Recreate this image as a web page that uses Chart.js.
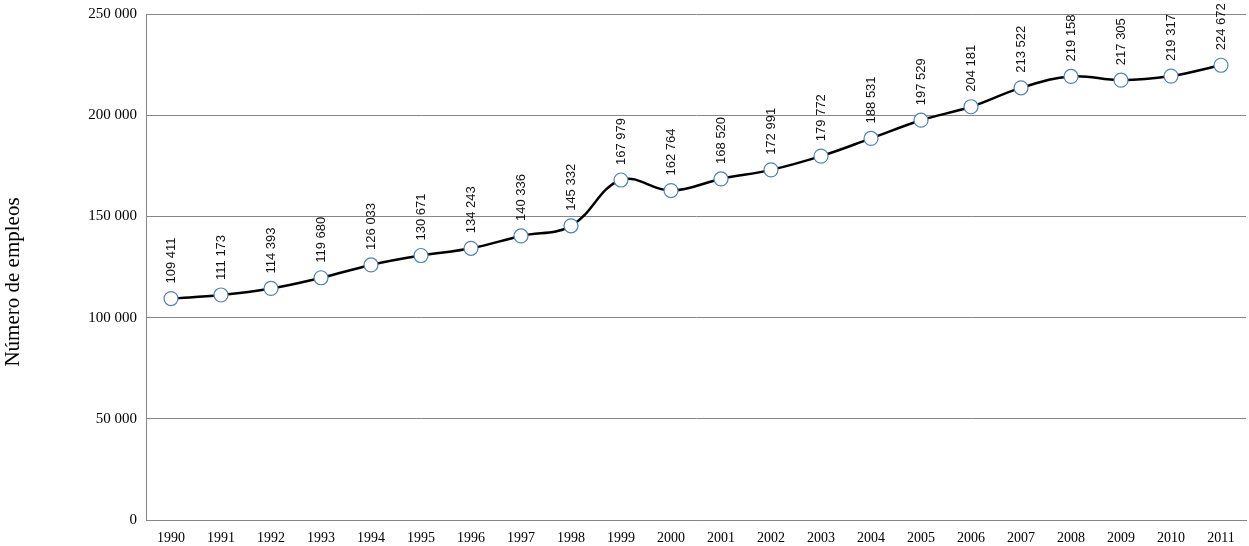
<!DOCTYPE html>
<html><head><meta charset="utf-8">
<script src="https://cdn.jsdelivr.net/npm/chart.js@4.4.1/dist/chart.umd.min.js"></script>
<style>html,body{margin:0;padding:0;background:#fff;overflow:hidden;}canvas{display:block;}</style>
</head><body><canvas id="c" width="1249" height="546" style="width:1249px;height:546px"></canvas>
<script>
const years = ['1990','1991','1992','1993','1994','1995','1996','1997','1998','1999','2000','2001','2002','2003','2004','2005','2006','2007','2008','2009','2010','2011'];
const empleos = [109411,111173,114393,119680,126033,130671,134243,140336,145332,167979,162764,168520,172991,179772,188531,197529,204181,213522,219158,217305,219317,224672];
const yTitle = 'Número de empleos';

function fmt(v){return String(v).replace(/\B(?=(\d{3})+(?!\d))/g,' ');}

// keep the plot area from reserving extra room for the end points
Chart.LineController.prototype.getMaxOverflow = function(){ return 0; };

const labelPlugin = {
  id:'vlabels',
  afterDatasetsDraw(chart){
    const ctx = chart.ctx;
    const meta = chart.getDatasetMeta(0);
    ctx.save();
    ctx.font = '13px "Liberation Sans Narrow", "Liberation Sans", sans-serif';
    ctx.fillStyle = '#111';
    ctx.textAlign = 'left';
    ctx.textBaseline = 'middle';
    meta.data.forEach((pt,i)=>{
      ctx.save();
      ctx.translate(pt.x, pt.y - 15);
      ctx.rotate(-Math.PI/2);
      ctx.fillText(fmt(chart.data.datasets[0].data[i]),0,0);
      ctx.restore();
    });
    ctx.save();
    ctx.font = '21px "Liberation Serif", serif';
    ctx.fillStyle = '#000';
    ctx.textAlign = 'center';
    ctx.textBaseline = 'middle';
    ctx.translate(13, 282);
    ctx.rotate(-Math.PI/2);
    ctx.fillText(yTitle,0,0);
    ctx.restore();
    ctx.restore();
  }
};

new Chart(document.getElementById('c'),{
  type:'line',
  data:{labels:years,datasets:[{data:empleos,borderColor:'#000',borderWidth:2.5,tension:0.4,clip:false,
    pointRadius:7,pointHoverRadius:7,pointBackgroundColor:'#fff',pointBorderColor:'#4F81BD',pointBorderWidth:1.2}]},
  options:{
    responsive:false,animation:false,devicePixelRatio:1,
    layout:{padding:{top:14,right:3,left:0,bottom:0}},
    plugins:{legend:{display:false},tooltip:{enabled:false}},
    scales:{
      x:{offset:true,grid:{display:false,drawTicks:false},border:{color:'#868686',width:1},
        ticks:{color:'#000',padding:10,maxRotation:0,autoSkip:false,font:{family:'"Liberation Serif", serif',size:14}},
        afterFit(s){s.height=26;s.paddingLeft=0;s.paddingRight=0;}},
      y:{min:0,max:250000,grid:{color:'#868686',drawTicks:false},border:{color:'#868686',width:1},
        ticks:{stepSize:50000,color:'#000',padding:9,font:{family:'"Liberation Serif", serif',size:15},callback:v=>fmt(v)},
        afterFit(s){s.width=146;s.paddingTop=0;s.paddingBottom=0;}}
    }
  },
  plugins:[labelPlugin]
});
</script></body></html>
